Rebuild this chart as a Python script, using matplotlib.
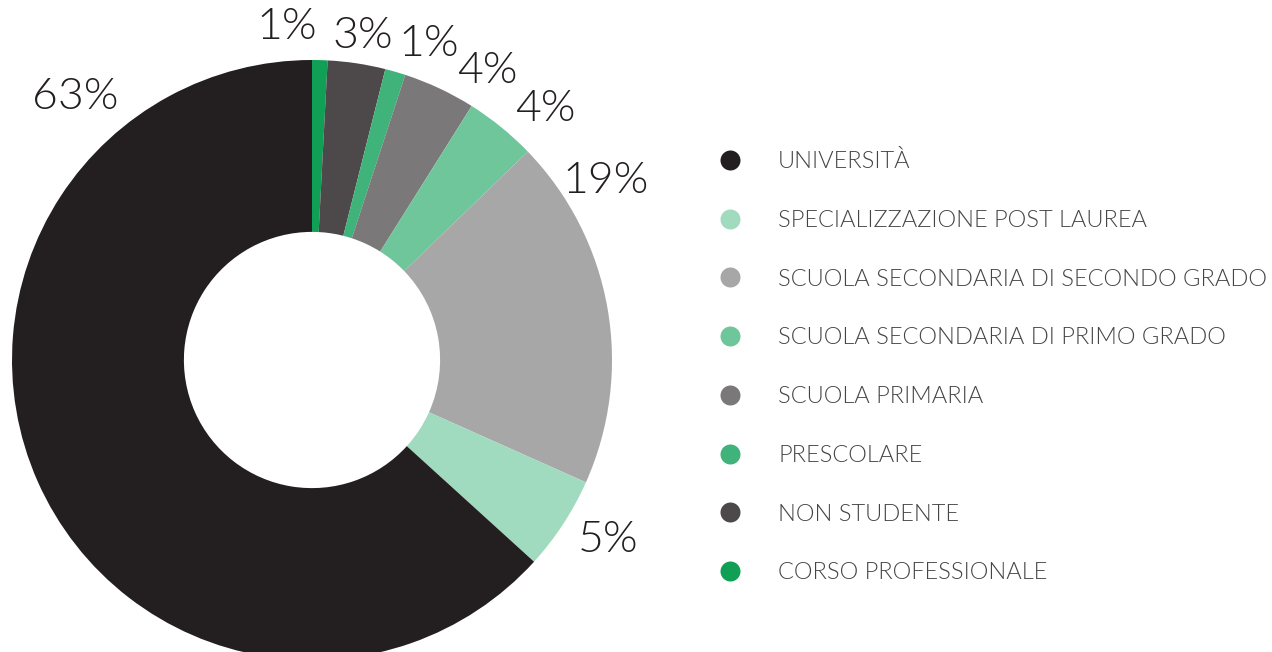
import matplotlib
matplotlib.use("Agg")
import matplotlib.pyplot as plt
from matplotlib.lines import Line2D
import numpy as np

# dati (ordine in senso orario partendo dall'alto), quote stimate dagli spicchi
categorie = ["CORSO PROFESSIONALE", "NON STUDENTE", "PRESCOLARE", "SCUOLA PRIMARIA",
             "SCUOLA SECONDARIA DI PRIMO GRADO", "SCUOLA SECONDARIA DI SECONDO GRADO",
             "SPECIALIZZAZIONE POST LAUREA", "UNIVERSITÀ"]
valori = [0.83, 3.1, 1.1, 3.9, 3.85, 18.9, 5.05, 63.25]
etichette = ["1%", "3%", "1%", "4%", "4%", "19%", "5%", "63%"]
colori = ["#0f9f55", "#4d4849", "#3fb37a", "#7a7879",
          "#6fc69b", "#a7a7a7", "#a0dbbf", "#231f20"]

# posizione delle etichette (angolo in gradi, distanza dal centro)
label_deg = [94.3, 81.1, 69.8, 58.8, 47.1, 31.3, -31.3, 132.1]
label_r = [1.110, 1.093, 1.122, 1.126, 1.142, 1.147, 1.155, 1.178]

plt.rcParams["font.family"] = ["Lato", "DejaVu Sans"]

W, H = 1272, 652
fig = plt.figure(figsize=(W / 100, H / 100), dpi=100)
cx, cy, r = 312, 360, 300
ax = fig.add_axes([(cx - r) / W, (H - cy - r) / H, 2 * r / W, 2 * r / H])
ax.pie(valori, colors=colori, startangle=90, counterclock=False, radius=1,
       wedgeprops=dict(width=0.573, edgecolor="none"))
ax.set_xlim(-1, 1)
ax.set_ylim(-1, 1)
ax.set_aspect("equal")
ax.axis("off")

for lab, a, d in zip(etichette, label_deg, label_r):
    t = np.deg2rad(a)
    ax.text(d * np.cos(t), d * np.sin(t), lab, ha="center", va="center",
            fontsize=32, fontweight=300, color="#231f20", clip_on=False)

# legenda in ordine inverso
handles = [Line2D([], [], marker="o", linestyle="none", markersize=14.4,
                  markerfacecolor=c, markeredgecolor="none")
           for c in colori[::-1]]
fig.legend(handles, categorie[::-1], loc="upper left",
           bbox_to_anchor=(719 / W, 1 - 150 / H), frameon=False,
           handlelength=0.9, handletextpad=1.6,
           labelspacing=1.6, borderpad=0, borderaxespad=0,
           labelcolor="#444444", prop=dict(size=17, weight=300))

fig.savefig("out.png", dpi=100)
